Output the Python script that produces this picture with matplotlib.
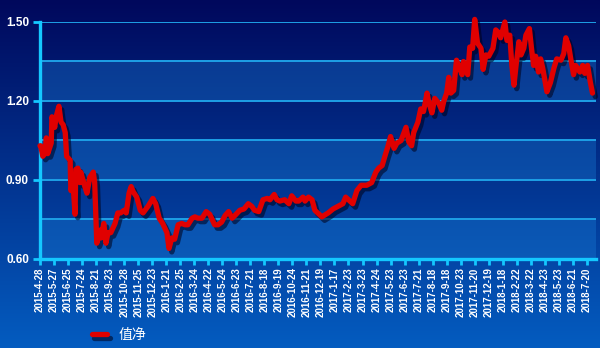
import numpy as np
import matplotlib.pyplot as plt
import matplotlib.patheffects as pe
from matplotlib.ticker import MultipleLocator

plt.rcParams['font.family'] = ['Liberation Sans', 'Noto Sans CJK SC', 'DejaVu Sans']

# ── data: trading-day index and net value ──
day_idx = [0, 1, 4, 7, 9, 11, 16, 17, 21, 23, 27, 30, 33, 36, 38, 43, 44, 47, 50, 51,
           54, 57, 58, 64, 67, 71, 76, 78, 81, 86, 87, 91, 94, 97, 101, 107, 111, 115, 120, 123,
           127, 130, 133, 138, 143, 147, 154, 161, 165, 170, 175, 181, 184, 188, 192, 197, 202, 207, 211, 217,
           221, 225, 231, 237, 242, 249, 254, 259, 264, 269, 274, 278, 285, 291, 297, 302, 306, 312, 318, 324,
           328, 334, 338, 342, 349, 355, 359, 365, 369, 375, 378, 383, 388, 392, 402, 411, 418, 425, 432, 436,
           446, 452, 458, 466, 473, 479, 483, 488, 493, 496, 500, 505, 509, 515, 522, 526, 530, 533, 539, 543,
           547, 552, 555, 559, 563, 569, 573, 576, 580, 583, 586, 590, 594, 597, 602, 604, 610, 613, 617, 620,
           624, 629, 632, 636, 640, 646, 650, 654, 657, 663, 666, 670, 673, 676, 679, 683, 686, 690, 693, 698,
           701, 704, 707, 711, 714, 717, 723, 728, 733, 737, 743, 747, 750, 754, 757, 761, 764, 770, 774, 777,
           781, 785, 788]
net_value = [1.03, 1.03, 0.99, 1.00, 1.06, 1.00, 1.04, 1.14, 1.10, 1.14, 1.18, 1.12, 1.11, 1.08, 0.99, 0.975, 0.86, 0.89, 0.77, 0.94,
             0.945, 0.89, 0.93, 0.875, 0.85, 0.91, 0.93, 0.89, 0.66, 0.71, 0.68, 0.735, 0.66, 0.70, 0.70, 0.735, 0.775, 0.775, 0.785, 0.775,
             0.85, 0.875, 0.855, 0.835, 0.785, 0.775, 0.80, 0.83, 0.81, 0.755, 0.735, 0.70, 0.64, 0.68, 0.675, 0.73, 0.735, 0.73, 0.73, 0.755,
             0.76, 0.755, 0.755, 0.78, 0.77, 0.73, 0.73, 0.74, 0.765, 0.78, 0.755, 0.765, 0.785, 0.79, 0.81, 0.80, 0.785, 0.78, 0.825, 0.83,
             0.825, 0.845, 0.825, 0.82, 0.825, 0.81, 0.84, 0.82, 0.82, 0.835, 0.82, 0.835, 0.825, 0.785, 0.76, 0.775, 0.79, 0.80, 0.81, 0.835,
             0.81, 0.86, 0.88, 0.88, 0.89, 0.93, 0.945, 0.955, 1.00, 1.025, 1.065, 1.02, 1.04, 1.05, 1.10, 1.045, 1.03, 1.08, 1.12, 1.17,
             1.16, 1.23, 1.19, 1.155, 1.21, 1.19, 1.165, 1.20, 1.23, 1.29, 1.23, 1.24, 1.355, 1.335, 1.30, 1.35, 1.30, 1.405, 1.40, 1.51,
             1.42, 1.40, 1.32, 1.375, 1.37, 1.40, 1.47, 1.46, 1.44, 1.50, 1.43, 1.45, 1.335, 1.26, 1.335, 1.425, 1.375, 1.40, 1.45, 1.475,
             1.40, 1.335, 1.37, 1.31, 1.36, 1.325, 1.235, 1.27, 1.325, 1.36, 1.355, 1.38, 1.44, 1.41, 1.36, 1.30, 1.335, 1.31, 1.335, 1.305,
             1.335, 1.27, 1.23]

date_labels = ['2015-4-28', '2015-5-27', '2015-6-25', '2015-7-24', '2015-8-21', '2015-9-23',
               '2015-10-28', '2015-11-25', '2015-12-23', '2016-1-21', '2016-2-25', '2016-3-24',
               '2016-4-22', '2016-5-24', '2016-6-23', '2016-7-21', '2016-8-18', '2016-9-19',
               '2016-10-24', '2016-11-21', '2016-12-19', '2017-1-17', '2017-2-23', '2017-3-23',
               '2017-4-24', '2017-5-23', '2017-6-23', '2017-7-21', '2017-8-18', '2017-9-18',
               '2017-10-23', '2017-11-20', '2017-12-19', '2018-1-18', '2018-2-22', '2018-3-22',
               '2018-4-23', '2018-5-23', '2018-6-21', '2018-7-20']
label_step = 20          # one date label every 20 trading days
series_name = '值净'

# ── figure + gradient background ──────────────────────
fig = plt.figure(figsize=(6, 3.48), dpi=100)
bg = fig.add_axes([0, 0, 1, 1], zorder=-10)
top = np.array([0, 8, 92]) / 255
bot = np.array([4, 92, 192]) / 255
t = np.linspace(0, 1, 256)[:, None]
grad = top + (bot - top) * t
bg.imshow(grad[:, None, :], aspect='auto', extent=[0, 1, 0, 1])
bg.axis('off')

ax = fig.add_axes([40/600, 1 - 259/348, 556/600, 237/348])
ax.set_facecolor('none')

# alternating bands
ymin, ymax, band = 0.60, 1.50, 0.15
for k, y0 in enumerate(np.arange(ymin, ymax - 1e-9, band)):
    if k % 2 == 0:
        ax.axhspan(y0, y0 + band, color='#1a7fd8', alpha=0.35, lw=0, zorder=0)
for y in np.arange(ymin + band, ymax + 1e-9, band):
    ax.axhline(y, color='#1ea0e6', lw=1.4, zorder=1)

line, = ax.plot(day_idx, net_value, color='#e00000', lw=3.8, solid_joinstyle='round',
                solid_capstyle='round', zorder=3, clip_on=False, label=series_name)
line.set_path_effects([pe.SimpleLineShadow(offset=(2, -2.5), shadow_color='#000018', alpha=0.55),
                       pe.Normal()])

ax.set_xlim(0, 793)
ax.set_ylim(ymin, ymax)
ax.set_xticks(np.arange(len(date_labels)) * label_step)
ax.set_xticklabels(date_labels, rotation=90, va='top', ha='center')
ax.yaxis.set_major_locator(MultipleLocator(0.30))
ax.yaxis.set_major_formatter(plt.FormatStrFormatter('%.2f'))

for s in ['top', 'right']:
    ax.spines[s].set_visible(False)
for s in ['left', 'bottom']:
    ax.spines[s].set_color('#14c8ff')
    ax.spines[s].set_linewidth(2.4)
ax.tick_params(axis='x', colors='#14c8ff', length=4, width=2, pad=2, labelcolor='white',
               labelsize=7)
ax.tick_params(axis='y', colors='#14c8ff', length=5, width=2, pad=3, labelcolor='white',
               labelsize=8.5)
for lab in ax.get_xticklabels() + ax.get_yticklabels():
    lab.set_fontweight('bold')

leg = fig.legend(handles=[line], loc='center left', bbox_to_anchor=(0.132, 0.037),
                 frameon=False, handlelength=1.1, handletextpad=0.8, fontsize=10)
for txt in leg.get_texts():
    txt.set_color('white')
    txt.set_family(['Noto Sans CJK SC', 'DejaVu Sans'])

fig.savefig('out.png', dpi=100)
